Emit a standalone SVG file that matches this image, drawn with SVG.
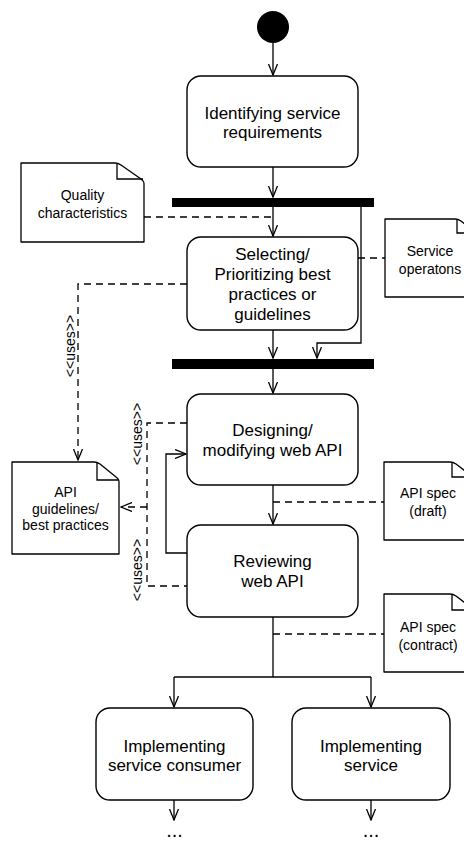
<svg xmlns="http://www.w3.org/2000/svg" width="464" height="842" viewBox="0 0 464 842">
  <style>
    .act { fill: #fff; stroke: #000; stroke-width: 1.4; }
    .note { fill: #fff; stroke: #000; stroke-width: 1.3; stroke-linejoin: round; }
    .fold { fill: none; stroke: #000; stroke-width: 1.3; }
    .bar { fill: #000; }
    .flow { fill: none; stroke: #000; stroke-width: 1.3; }
    .dash { fill: none; stroke: #000; stroke-width: 1.3; stroke-dasharray: 7 5; }
    .t17 { font-family: "Liberation Sans", Arial, sans-serif; font-size: 17px; text-anchor: middle; fill: #000; }
    .t14 { font-family: "Liberation Sans", Arial, sans-serif; font-size: 14px; text-anchor: middle; fill: #000; }
    .dots { font-family: "Liberation Sans", Arial, sans-serif; font-size: 20px; text-anchor: middle; fill: #000; }
  </style>
  <defs>
    <marker id="arrow" viewBox="0 0 12 10" refX="11" refY="5" markerWidth="12" markerHeight="10" markerUnits="userSpaceOnUse" orient="auto">
      <path d="M0,0.5 L11,5 L0,9.5" fill="none" stroke="#000" stroke-width="1.3"/>
    </marker>
  </defs>
  <rect width="464" height="842" fill="#fff"/>

  <!-- control flow and object flow connectors -->
  <g id="connectors">
    <path class="flow" d="M273,43 V75" marker-end="url(#arrow)"/>
    <path class="flow" d="M273,167 V197" marker-end="url(#arrow)"/>
    <path class="flow" d="M273,207 V236" marker-end="url(#arrow)"/>
    <path class="flow" d="M361,207 V343 H317 V358" marker-end="url(#arrow)"/>
    <path class="flow" d="M273,330 V358" marker-end="url(#arrow)"/>
    <path class="flow" d="M273,369 V393" marker-end="url(#arrow)"/>
    <path class="flow" d="M273,485 V524" marker-end="url(#arrow)"/>
    <path class="flow" d="M187,553 H166 V454 H186" marker-end="url(#arrow)"/>
    <path class="flow" d="M273,617 V677"/>
    <path class="flow" d="M174,677 H371"/>
    <path class="flow" d="M174,677 V707" marker-end="url(#arrow)"/>
    <path class="flow" d="M371,677 V707" marker-end="url(#arrow)"/>
    <path class="flow" d="M174,800 V820" marker-end="url(#arrow)"/>
    <path class="flow" d="M371,800 V820" marker-end="url(#arrow)"/>

    <path class="dash" d="M144,217 H273"/>
    <path class="dash" d="M358,258 H385"/>
    <path class="dash" d="M187,284 H78 V460" marker-end="url(#arrow)"/>
    <path class="dash" d="M187,423 H147 V586 H187"/>
    <path class="dash" d="M147,507 H121" marker-end="url(#arrow)"/>
    <path class="dash" d="M273,502 H384"/>
    <path class="dash" d="M273,634 H384"/>

    <text class="t14" transform="translate(75,346) rotate(-90)">&lt;&lt;uses&gt;&gt;</text>
    <text class="t14" transform="translate(142,434) rotate(-90)">&lt;&lt;uses&gt;&gt;</text>
    <text class="t14" transform="translate(142,570) rotate(-90)">&lt;&lt;uses&gt;&gt;</text>
  </g>

  <g id="start">
    <circle cx="273" cy="27" r="16" fill="#000"/>
  </g>

  <g id="identifying">
    <rect class="act" x="187" y="76" width="171" height="91" rx="14"/>
    <text class="t17" x="272.5" y="119">Identifying service</text>
    <text class="t17" x="272.5" y="138">requirements</text>
  </g>

  <g id="fork1">
    <rect class="bar" x="172" y="198" width="202" height="9"/>
  </g>

  <g id="quality">
    <path class="note" d="M21,163 H115 Q118,163 121,165 L141,179 Q144,181 144,184 V242 H21 Z"/>
    <path class="fold" d="M117,164 V179 H143"/>
    <text class="t14" x="82.5" y="200">Quality</text>
    <text class="t14" x="82.5" y="218">characteristics</text>
  </g>

  <g id="selecting">
    <rect class="act" x="187" y="237" width="171" height="93" rx="14"/>
    <text class="t17" x="272.5" y="260">Selecting/</text>
    <text class="t17" x="272.5" y="280">Prioritizing best</text>
    <text class="t17" x="272.5" y="300">practices or</text>
    <text class="t17" x="272.5" y="320">guidelines</text>
  </g>

  <g id="service-ops">
    <path class="note" d="M385,219 H455 Q458,219 461,221 L472,230 Q475,232 475,235 V297 H385 Z"/>
    <path class="fold" d="M457,220 V233 H475"/>
    <text class="t14" x="430" y="256">Service</text>
    <text class="t14" x="430" y="274">operatons</text>
  </g>

  <g id="fork2">
    <rect class="bar" x="172" y="359" width="202" height="10"/>
  </g>

  <g id="guidelines">
    <path class="note" d="M12,462 H94 Q97,462 100,464 L116,477 Q119,479 119,482 V554 H12 Z"/>
    <path class="fold" d="M97,463 V480 H119"/>
    <text class="t14" x="65.5" y="497">API</text>
    <text class="t14" x="65.5" y="514">guidelines/</text>
    <text class="t14" x="65.5" y="530">best practices</text>
  </g>

  <g id="designing">
    <rect class="act" x="187" y="394" width="171" height="91" rx="14"/>
    <text class="t17" x="272.5" y="436">Designing/</text>
    <text class="t17" x="272.5" y="456">modifying web API</text>
  </g>

  <g id="spec-draft">
    <path class="note" d="M384,462 H450 Q453,462 456,464 L469,474 Q472,476 472,479 V540 H384 Z"/>
    <path class="fold" d="M452,463 V477 H472"/>
    <text class="t14" x="428" y="498">API spec</text>
    <text class="t14" x="428" y="516">(draft)</text>
  </g>

  <g id="reviewing">
    <rect class="act" x="187" y="525" width="171" height="92" rx="14"/>
    <text class="t17" x="272.5" y="567">Reviewing</text>
    <text class="t17" x="272.5" y="587">web API</text>
  </g>

  <g id="spec-contract">
    <path class="note" d="M384,594 H450 Q453,594 456,596 L469,606 Q472,608 472,611 V672 H384 Z"/>
    <path class="fold" d="M452,595 V610 H472"/>
    <text class="t14" x="428" y="632">API spec</text>
    <text class="t14" x="428" y="650">(contract)</text>
  </g>

  <g id="impl-consumer">
    <rect class="act" x="96" y="708" width="157" height="92" rx="14"/>
    <text class="t17" x="174.5" y="752">Implementing</text>
    <text class="t17" x="174.5" y="771">service consumer</text>
    <text class="dots" x="174.5" y="837">...</text>
  </g>

  <g id="impl-service">
    <rect class="act" x="292" y="708" width="158" height="92" rx="14"/>
    <text class="t17" x="371" y="752">Implementing</text>
    <text class="t17" x="371" y="771">service</text>
    <text class="dots" x="371" y="837">...</text>
  </g>
</svg>
